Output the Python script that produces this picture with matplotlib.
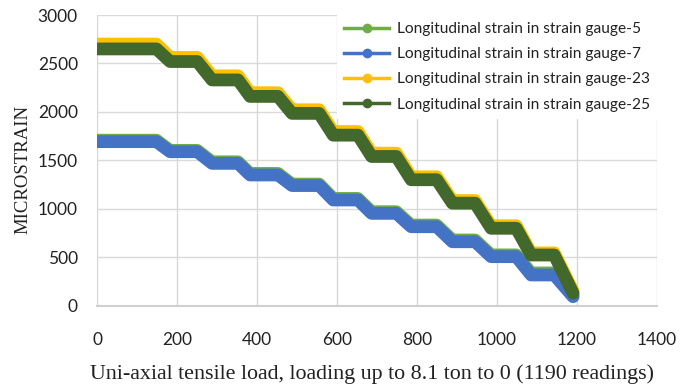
import matplotlib
matplotlib.use('Agg')
import matplotlib.pyplot as plt
from matplotlib.lines import Line2D

# reading index where each load plateau starts / ends, and the last reading
plateau_start = [1, 182, 287, 382, 487, 590, 686, 785, 888, 985, 1085]
plateau_end = [148, 250, 352, 452, 555, 652, 748, 849, 945, 1048, 1143]
last_reading = 1190

# microstrain on each plateau, last value = strain at the final reading
gauge5 = [1708, 1603, 1485, 1365, 1255, 1107, 970, 832, 678, 524, 338, 108]
gauge7 = [1693, 1589, 1469, 1349, 1240, 1091, 953, 815, 660, 506, 317, 93]
gauge23 = [2700, 2562, 2372, 2198, 2022, 1797, 1574, 1330, 1085, 825, 545, 150]
gauge25 = [2650, 2520, 2330, 2160, 1985, 1760, 1540, 1300, 1058, 799, 523, 130]

labels = ["Longitudinal strain in strain gauge-5",
          "Longitudinal strain in strain gauge-7",
          "Longitudinal strain in strain gauge-23",
          "Longitudinal strain in strain gauge-25"]
colors = ["#70AD47", "#4472C4", "#FFC000", "#43682B"]

xticks = [0, 200, 400, 600, 800, 1000, 1200, 1400]
yticks = [0, 500, 1000, 1500, 2000, 2500, 3000]


def vertices(levels):
    xs, ys = [], []
    for s, e, lv in zip(plateau_start, plateau_end, levels[:-1]):
        xs += [s, e]
        ys += [lv, lv]
    xs.append(last_reading)
    ys.append(levels[-1])
    return xs, ys


fig = plt.figure(figsize=(6.94, 3.91), dpi=100)
ax = fig.add_axes([0.1402, 0.2182, 0.8065, 0.7434])

for series, col in zip([gauge5, gauge7, gauge23, gauge25], colors):
    xs, ys = vertices(series)
    ax.plot(xs, ys, color=col, lw=9.2, solid_capstyle='round',
            solid_joinstyle='round', zorder=3)

ax.set_xlim(0, 1400)
ax.set_ylim(0, 3000)
ax.set_xticks(xticks)
ax.set_yticks(yticks)
ax.grid(True, color='#d9d9d9', lw=1.0, zorder=0)
ax.set_axisbelow(True)
for side in ['top', 'right']:
    ax.spines[side].set_visible(False)
ax.spines['left'].set_color('#d9d9d9')
ax.spines['bottom'].set_color('#d0d0d0')
ax.spines['bottom'].set_linewidth(1.5)
ax.tick_params(length=0, labelsize=12.5, colors='#222222')
ax.tick_params(axis='x', pad=19)
ax.tick_params(axis='y', pad=14)
for t in ax.get_xticklabels() + ax.get_yticklabels():
    t.set_fontfamily('Lato')

ax.set_xlabel("Uni-axial tensile load, loading up to 8.1 ton to 0 (1190 readings)",
              family='Liberation Serif', fontsize=15.8, color='#222222')
ax.xaxis.set_label_coords(0.49, -0.2)
ax.set_ylabel("MICROSTRAIN", family='Liberation Serif', fontsize=13.5,
              color='#222222')
ax.yaxis.set_label_coords(-0.118, 0.47)

handles = [Line2D([], [], color=c, lw=2.5, marker='o', ms=6) for c in colors]
leg = ax.legend(handles, labels, loc='upper right', bbox_to_anchor=(1.0, 1.0),
                borderaxespad=0, frameon=True, fancybox=False, framealpha=1,
                edgecolor='none', facecolor='white', handlelength=2.9,
                handletextpad=0.5, labelspacing=0.72, borderpad=0.45,
                prop={'family': 'Lato', 'size': 11.2})
leg.set_zorder(5)
for t in leg.get_texts():
    t.set_color('#222222')

fig.savefig('out.png', dpi=100)
